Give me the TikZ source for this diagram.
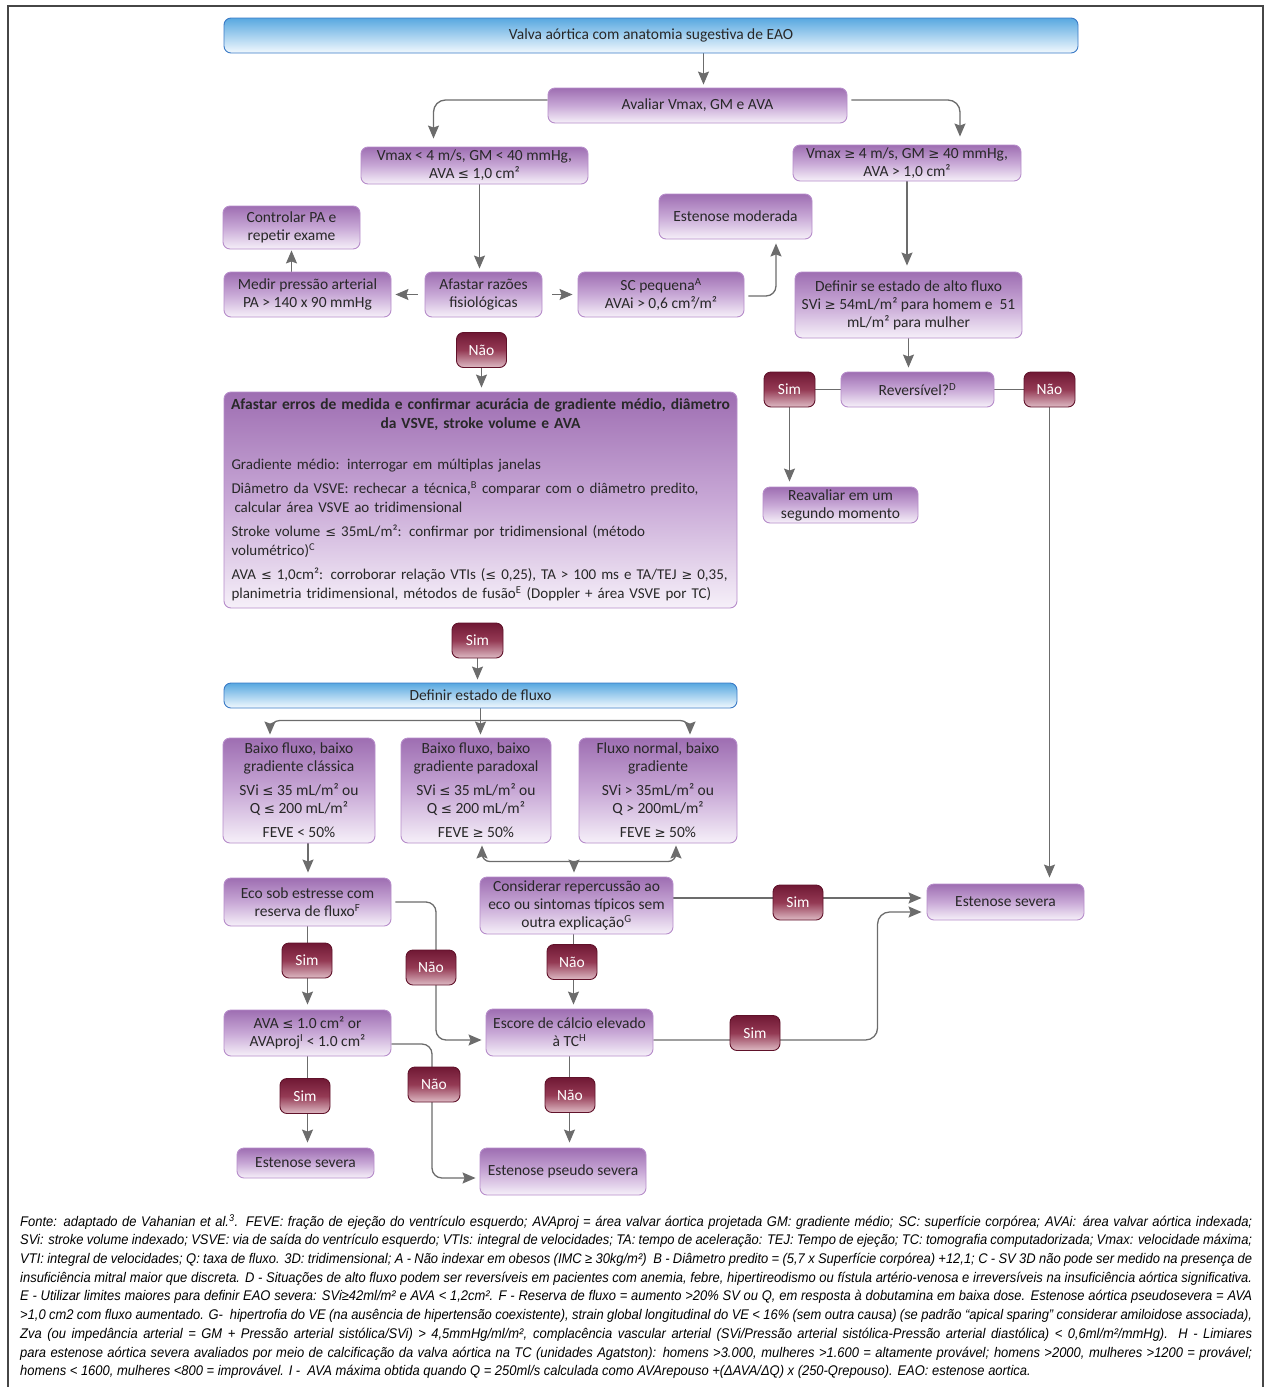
\documentclass[tikz,border=0pt]{standalone}
\usepackage{fontspec}
\setmainfont{Carlito}
\newfontfamily\notefont[FakeStretch=0.925]{Liberation Sans}
\newfontfamily\symf[Scale=0.86]{DejaVu Sans}
\usetikzlibrary{arrows.meta,backgrounds}
\definecolor{pTop}{RGB}{158,110,178}
\definecolor{pMid}{RGB}{200,168,214}
\definecolor{pBot}{RGB}{246,240,249}
\definecolor{pBd}{RGB}{182,140,202}
\definecolor{rTop}{RGB}{112,24,52}
\definecolor{rMid}{RGB}{148,58,84}
\definecolor{rBot}{RGB}{222,186,196}
\definecolor{rBd}{RGB}{96,18,42}
\definecolor{bTop}{RGB}{88,168,224}
\definecolor{bBot}{RGB}{242,249,254}
\definecolor{bBd}{RGB}{58,122,198}
\definecolor{aGray}{RGB}{108,108,108}
\definecolor{txt}{RGB}{40,40,40}
\definecolor{frm}{RGB}{70,70,70}
\newcommand\boxfont{\fontsize{15.5}{18}\selectfont}
\newcommand\bigfont{\fontsize{15}{19}\selectfont}
\newcommand\notesz{\notefont\itshape\fontsize{14}{16}\selectfont}
\newcommand\myle{{\symf ≤}}
\newcommand\myge{{\symf ≥}}
\tikzset{
 pbox/.style={draw=pBd, line width=0.9pt, rounded corners=7pt, top color=pTop, bottom color=pBot, middle color=pMid, text=txt, font=\boxfont, align=center, inner sep=0pt},
 rbox/.style={draw=rBd, line width=0.9pt, rounded corners=7pt, top color=rTop, bottom color=rBot, middle color=rMid, text=white, font=\boxfont, minimum width=50pt, minimum height=35pt, inner sep=0pt},
 bbox/.style={draw=bBd, line width=0.9pt, rounded corners=7pt, top color=bTop, bottom color=bBot, text=txt, font=\boxfont, align=center, inner sep=0pt},
 arr/.style={draw=aGray, line width=1.3pt, -{Stealth[length=13pt,width=11pt,inset=2pt]}},
 ln/.style={draw=aGray, line width=1.3pt},
 note/.style={anchor=west, inner sep=0pt, font=\notesz, text=black},
}
\begin{document}
\begin{tikzpicture}[x=1pt,y=-1pt]
\useasboundingbox (0,0) rectangle (1269,1387);
\draw[frm, line width=1.5pt] (8,1387) -- (8,6) -- (1263,6) -- (1263,1387);
% nodes
\node[bbox, minimum width=854pt, minimum height=35pt] (start) at (651,35.5) {Valva aórtica com anatomia sugestiva de EAO};
\node[pbox, minimum width=299pt, minimum height=35pt] (avaliar) at (697.5,105.5) {Avaliar Vmax, GM e AVA};
\node[pbox, minimum width=227pt, minimum height=37pt] (vlow) at (474.5,165.5) {Vmax < 4 m/s, GM < 40 mmHg,\\ AVA \myle{} 1,0 cm²};
\node[pbox, minimum width=228pt, minimum height=36pt] (vhigh) at (907,163) {Vmax \myge{} 4 m/s, GM \myge{} 40 mmHg,\\ AVA > 1,0 cm²};
\node[pbox, minimum width=137pt, minimum height=43pt] (ctrl) at (291.5,227.5) {Controlar PA e\\ repetir exame};
\node[pbox, minimum width=153pt, minimum height=45pt] (emod) at (735.5,216.5) {Estenose moderada};
\node[pbox, minimum width=167pt, minimum height=45pt] (medir) at (307.5,294.5) {Medir pressão arterial\\ PA > 140 x 90 mmHg};
\node[pbox, minimum width=117pt, minimum height=45pt] (afastar) at (483.5,294.5) {Afastar razões\\ fisiológicas};
\node[pbox, minimum width=166pt, minimum height=45pt] (sc) at (661,294.5) {SC pequena\textsuperscript{A}\\ AVAi > 0,6 cm²/m²};
\node[pbox, minimum width=227pt, minimum height=66pt] (altofl) at (908.5,305) {Definir se estado de alto fluxo\\ SVi \myge{} 54mL/m² para homem e~~51\\ mL/m² para mulher};
\node[rbox] (nao1) at (481.5,350) {Não};
\node[pbox, font=\bigfont, minimum width=513pt, minimum height=216pt, text width=498pt, align=left] (big) at (480.5,500) {%
\makebox[498pt][c]{\fontsize{15.5}{19}\selectfont\bfseries Afastar erros de medida e confirmar acurácia de gradiente médio, diâmetro}\\
\makebox[498pt][c]{\fontsize{15.5}{19}\selectfont\bfseries da VSVE, stroke volume e AVA}\\[22pt]
Gradiente médio: interrogar em múltiplas janelas\\[5pt]
Diâmetro da VSVE: rechecar a técnica,\textsuperscript{B} comparar com o diâmetro predito,\\
\hspace*{3pt}calcular área VSVE ao tridimensional\\[5pt]
Stroke volume \myle{} 35mL/m²: confirmar por tridimensional (método\\
volumétrico)\textsuperscript{C}\\[5pt]
AVA \myle{} 1,0cm²: corroborar relação VTIs (\myle{} 0,25), TA > 100 ms e TA/TEJ \myge{} 0,35,\\
planimetria tridimensional, métodos de fusão\textsuperscript{E} (Doppler + área VSVE por TC)};
\node[rbox, minimum width=51pt] (sim1) at (789.5,389.5) {Sim};
\node[pbox, minimum width=153pt, minimum height=35pt] (rev) at (917.5,389.5) {Reversível?\textsuperscript{D}};
\node[rbox, minimum width=51pt] (nao2) at (1049.5,389.5) {Não};
\node[pbox, minimum width=155pt, minimum height=36pt] (reav) at (840.5,505) {Reavaliar em um\\ segundo momento};
\node[rbox, minimum width=51pt] (sim2) at (477.5,640.5) {Sim};
\node[bbox, minimum width=513pt, minimum height=25pt] (defl) at (480.5,695.5) {Definir estado de fluxo};
\node[pbox, minimum width=152pt, minimum height=105pt] (bx1) at (299,790.5) {Baixo fluxo, baixo\\ gradiente clássica\\[6pt] SVi \myle{} 35 mL/m² ou\\ Q \myle{} 200 mL/m²\\[6pt] FEVE < 50\%};
\node[pbox, minimum width=150pt, minimum height=105pt] (bx2) at (476,790.5) {Baixo fluxo, baixo\\ gradiente paradoxal\\[6pt] SVi \myle{} 35 mL/m² ou\\ Q \myle{} 200 mL/m²\\[6pt] FEVE \myge{} 50\%};
\node[pbox, minimum width=158pt, minimum height=105pt] (bx3) at (658,790.5) {Fluxo normal, baixo\\ gradiente\\[6pt] SVi > 35mL/m² ou\\ Q > 200mL/m²\\[6pt] FEVE \myge{} 50\%};
\node[pbox, minimum width=167pt, minimum height=48pt] (eco) at (307.5,902) {Eco sob estresse com\\ reserva de fluxo\textsuperscript{F}};
\node[pbox, minimum width=193pt, minimum height=57pt] (cons) at (576.5,905.5) {Considerar repercussão ao\\ eco ou sintomas típicos sem\\ outra explicação\textsuperscript{G}};
\node[rbox] (sim3) at (798,902.5) {Sim};
\node[pbox, minimum width=157pt, minimum height=36pt] (sevR) at (1005.5,902) {Estenose severa};
\node[rbox] (sim4) at (307,960.5) {Sim};
\node[rbox] (nao3) at (431,967.5) {Não};
\node[rbox] (nao4) at (572,962) {Não};
\node[pbox, minimum width=167pt, minimum height=46pt] (ava) at (307.5,1033) {AVA \myle{} 1.0 cm² or\\ AVAproj\textsuperscript{I} < 1.0 cm²};
\node[pbox, minimum width=167pt, minimum height=47pt] (esc) at (569.5,1032.5) {Escore de cálcio elevado\\ à TC\textsuperscript{H}};
\node[rbox] (sim5) at (755,1033) {Sim};
\node[rbox] (sim6) at (305,1096) {Sim};
\node[rbox, minimum width=52pt] (nao5) at (434,1084.5) {Não};
\node[rbox] (nao6) at (570,1095) {Não};
\node[pbox, minimum width=137pt, minimum height=30pt] (sevL) at (305.5,1163) {Estenose severa};
\node[pbox, minimum width=166pt, minimum height=47pt] (pseudo) at (563,1171.5) {Estenose pseudo severa};
% connectors
\begin{scope}[on background layer]
\draw[arr, shorten >=3pt] ([xshift=6]avaliar.north |- start.south) -- ([xshift=6]avaliar.north);
\draw[arr, rounded corners=12pt, shorten >=8pt] ([yshift=5.5]avaliar.west) -| ([xshift=-41]vlow.north);
\draw[arr, rounded corners=12pt, shorten >=8pt] ([xshift=4,yshift=5.5]avaliar.east) -| ([xshift=53]vhigh.north);
\draw[arr, shorten >=3pt] ([xshift=5]vlow.south) -- ([xshift=5]vlow.south |- afastar.north);
\draw[arr, shorten >=6pt] (vhigh.south) -- (vhigh.south |- altofl.north);
\draw[arr, shorten <=7pt, shorten >=4pt] (afastar.west) -- (afastar.west -| medir.east);
\draw[arr, shorten <=10pt, shorten >=5pt] (afastar.east) -- (afastar.east -| sc.west);
\draw[arr, shorten >=1pt] (ctrl.south |- medir.north) -- (ctrl.south);
\draw[arr, rounded corners=10pt, shorten >=4pt] ([xshift=4,yshift=-1.5]sc.east) -| ([xshift=40.5]emod.south);
\draw[arr, shorten >=4pt] (nao1.south) -- (nao1.south |- big.north);
\draw[arr, shorten >=4pt] (altofl.south) -- (altofl.south |- rev.north);
\draw[ln] (sim1.east) -- (rev.west);
\draw[ln] (rev.east) -- (nao2.west);
\draw[arr, shorten >=5pt] (sim1.south) -- (sim1.south |- reav.north);
\draw[arr, shorten >=6pt] (nao2.south) -- (nao2.south |- sevR.north);
\draw[arr, shorten >=3pt] (sim2.south) -- (sim2.south |- defl.north);
\coordinate (j1) at ([yshift=-12]defl.south);
\draw[arr, shorten >=3pt] (defl.south) -- (defl.south |- bx2.north);
\draw[arr, rounded corners=10pt, shorten >=3pt] (j1) -| ([xshift=-29]bx1.north);
\draw[arr, rounded corners=10pt, shorten >=3pt] (j1) -| ([xshift=32]bx3.north);
\coordinate (j2) at ([xshift=-2.5,yshift=15]cons.north);
\draw[arr, shorten >=4pt] (j2) -- (j2 |- cons.north);
\draw[arr, rounded corners=8pt, shorten >=2pt] (j2) -| ([xshift=6]bx2.south);
\draw[arr, rounded corners=8pt, shorten >=2pt] (j2) -| ([xshift=18]bx3.south);
\draw[arr, shorten >=5pt] ([xshift=9]bx1.south) -- ([xshift=9]bx1.south |- eco.north);
\draw[arr, rounded corners=10pt, shorten <=4pt, shorten >=4pt] (eco.east) -| ([xshift=5]nao3.center) |- ([yshift=-7.5]esc.west);
\draw[arr, shorten >=5pt] (eco.south) -- (eco.south |- ava.north);
\draw[arr, shorten >=4pt] ([xshift=-3]cons.south) -- ([xshift=-3]cons.south |- esc.north);
\draw[arr, shorten >=5pt] ([yshift=7.5]cons.east) -- ([yshift=7.5]cons.east -| sevR.west);
\draw[arr, rounded corners=12pt, shorten >=5pt] ([yshift=-7.5]esc.east) -| ([xshift=-49,yshift=-10]sevR.west) -- ([yshift=-10]sevR.west);
\draw[arr, rounded corners=10pt, shorten >=4pt] ([yshift=-11]ava.east) -| ([xshift=-2]nao5.center) |- ([yshift=-6.5]pseudo.west);
\draw[arr, shorten >=5pt] (ava.south) -- (ava.south |- sevL.north);
\draw[arr, shorten >=5pt] (esc.south) -- (esc.south |- pseudo.north);
\end{scope}
% footnote
\node[note] (f1) at (20,1222) {\makebox[1232pt][s]{Fonte: adaptado de Vahanian et al.\textsuperscript{3}. FEVE: fração de ejeção do ventrículo esquerdo; AVAproj = área valvar áortica projetada GM: gradiente médio; SC: superfície corpórea; AVAi: área valvar aórtica indexada;}};
\node[note] (f2) at (20,1241) {\makebox[1232pt][s]{SVi: stroke volume indexado; VSVE: via de saída do ventrículo esquerdo; VTIs: integral de velocidades; TA: tempo de aceleração: TEJ: Tempo de ejeção; TC: tomografia computadorizada; Vmax: velocidade máxima;}};
\node[note] (f3) at (20,1260) {\makebox[1232pt][s]{VTI: integral de velocidades; Q: taxa de fluxo. 3D: tridimensional; A - Não indexar em obesos (IMC ≥ 30kg/m²)~~B - Diâmetro predito = (5,7 x Superfície corpórea) +12,1; C - SV 3D não pode ser medido na presença de}};
\node[note] (f4) at (20,1279) {\makebox[1232pt][s]{insuficiência mitral maior que discreta. D - Situações de alto fluxo podem ser reversíveis em pacientes com anemia, febre, hipertireodismo ou fístula artério-venosa e irreversíveis na insuficiência aórtica significativa.}};
\node[note] (f5) at (20,1297) {\makebox[1232pt][s]{E - Utilizar limites maiores para definir EAO severa: SVi≥42ml/m² e AVA < 1,2cm². F - Reserva de fluxo = aumento >20\% SV ou Q, em resposta à dobutamina em baixa dose. Estenose aórtica pseudosevera = AVA}};
\node[note] (f6) at (20,1316) {\makebox[1232pt][s]{>1,0 cm2 com fluxo aumentado. G-~~hipertrofia do VE (na ausência de hipertensão coexistente), strain global longitudinal do VE < 16\% (sem outra causa) (se padrão “apical sparing” considerar amiloidose associada),}};
\node[note] (f7) at (20,1335) {\makebox[1232pt][s]{Zva (ou impedância arterial = GM + Pressão arterial sistólica/SVi) > 4,5mmHg/ml/m², complacência vascular arterial (SVi/Pressão arterial sistólica-Pressão arterial diastólica) < 0,6ml/m²/mmHg). H - Limiares}};
\node[note] (f8) at (20,1354) {\makebox[1232pt][s]{para estenose aórtica severa avaliados por meio de calcificação da valva aórtica na TC (unidades Agatston): homens >3.000, mulheres >1.600 = altamente provável; homens >2000, mulheres >1200 = provável;}};
\node[note] (f9) at (20,1372) {homens < 1600, mulheres <800 = improvável. I -~~AVA máxima obtida quando Q = 250ml/s calculada como AVArepouso +(ΔAVA/ΔQ) x (250-Qrepouso). EAO: estenose aortica.};
\end{tikzpicture}
\end{document}
